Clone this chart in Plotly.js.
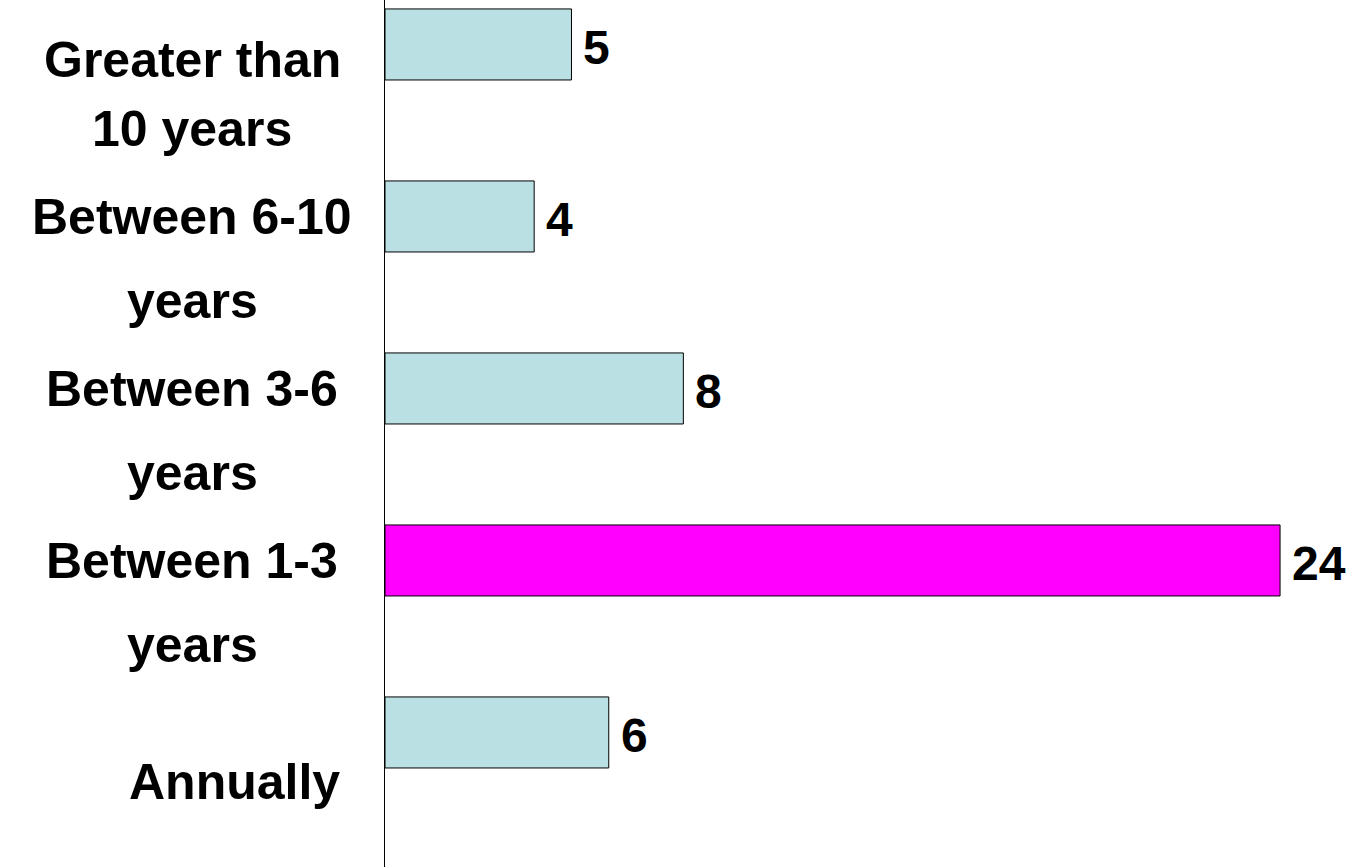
<!DOCTYPE html>
<html>
<head>
<meta charset="utf-8">
<script src="https://cdn.plot.ly/plotly-3.0.1.min.js"></script>
<style>html,body{margin:0;padding:0;background:#fff;}#chart{width:1353px;height:867px;}</style>
</head>
<body>
<div id="chart"></div>
<script>
// Categories listed bottom to top
var categories = ["Annually", "Between 1-3 years", "Between 3-6 years", "Between 6-10 years", "Greater than 10 years"];
var labelLines = [["Annually"], ["Between 1-3", "years"], ["Between 3-6", "years"], ["Between 6-10", "years"], ["Greater than", "10 years"]];
var values = [6, 24, 8, 4, 5];
var barColors = ["#bbe0e3", "#ff00ff", "#bbe0e3", "#bbe0e3", "#bbe0e3"];

var FONT = "Liberation Sans, Arial, sans-serif";
var barWidth = 0.413;
var barCenterOffset = 0.2415;
var idx = categories.map(function (c, i) { return i; });
var barY = idx.map(function (i) { return i + barCenterOffset; });

var trace = {
  type: "bar",
  orientation: "h",
  x: values,
  y: barY,
  width: barWidth,
  marker: { color: barColors, line: { color: "#000", width: 1 } },
  hoverinfo: "none",
  showlegend: false
};

var annotations = [];
// value labels
values.forEach(function (v, i) {
  annotations.push({
    x: v, y: barY[i], xref: "x", yref: "y",
    text: String(v), showarrow: false,
    xanchor: "left", yanchor: "middle", xshift: 10, yshift: -3,
    font: { family: FONT, size: 48, color: "#000", weight: "bold" }
  });
});
// category labels (each line placed separately)
labelLines.forEach(function (lines, i) {
  var shifts;
  if (lines.length === 1) shifts = [8];
  else if (i === labelLines.length - 1) shifts = [-26, 43];
  else shifts = [-41, 43];
  lines.forEach(function (ln, j) {
    var single = lines.length === 1;
    annotations.push({
      x: 0, y: i, xref: "paper", yref: "y",
      text: ln, showarrow: false,
      xanchor: single ? "right" : "center", yanchor: "middle",
      xshift: single ? -43 : -193, yshift: -shifts[j],
      font: { family: FONT, size: 50, color: "#000", weight: "bold" }
    });
  });
});

var layout = {
  width: 1353, height: 867,
  margin: { l: 385, r: 17, t: 0, b: 0, pad: 0 },
  paper_bgcolor: "#fff", plot_bgcolor: "#fff",
  xaxis: { range: [0, 25.5], showgrid: false, zeroline: false, showline: false, showticklabels: false, ticks: "" },
  yaxis: { range: [-0.5407, 4.5], showgrid: false, zeroline: false, showline: true, linecolor: "#000", linewidth: 1, showticklabels: false, ticks: "" },
  annotations: annotations,
  bargap: 0
};

Plotly.newPlot("chart", [trace], layout, { displayModeBar: false, staticPlot: true });
</script>
</body>
</html>
